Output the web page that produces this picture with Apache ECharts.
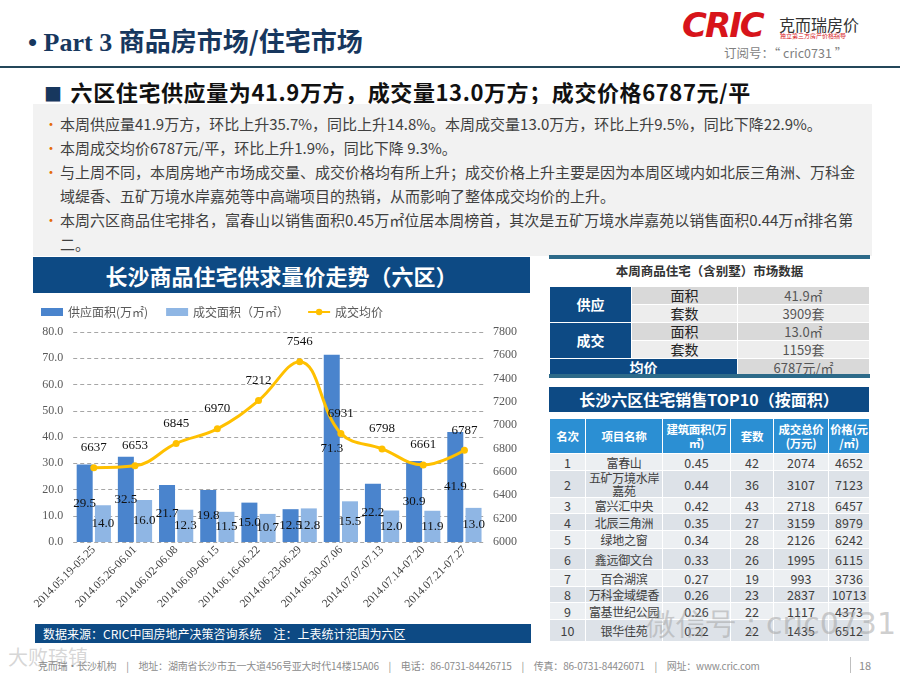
<!DOCTYPE html>
<html><head><meta charset="utf-8">
<script src="https://cdn.jsdelivr.net/npm/echarts@6/dist/echarts.min.js"></script>
<style>
html,body{margin:0;padding:0;width:900px;height:675px;overflow:hidden;background:#fff;font-family:"Noto Sans CJK SC","Noto Sans",sans-serif;}
.abs{position:absolute;}
#title{left:28px;top:21px;font-size:26px;font-weight:bold;color:#17375E;white-space:nowrap;}
#title .en{font-family:"Liberation Serif",serif;}
#topline{left:0;top:66px;width:900px;height:2px;background:#24475A;}
#sub{left:44px;top:75px;font-size:22px;font-weight:bold;color:#111;white-space:nowrap;letter-spacing:0.6px;}
#sub .sq{color:#17375E;font-size:18px;margin-right:8px;}
#graybox{left:33px;top:104px;width:839px;height:152px;background:#F2F2F2;}
.bl{position:absolute;left:60px;font-size:15px;color:#404040;white-space:nowrap;letter-spacing:0px;}
.dot{position:absolute;left:44px;color:#E46C0A;font-size:14px;}
#ctitle{left:33px;top:257px;width:497px;height:36px;background:#0D4A84;color:#fff;font-size:22px;font-weight:bold;text-align:center;line-height:36px;}
#chart{left:30px;top:293px;width:500px;height:330px;}
#src{left:35px;top:624px;width:496px;height:19px;background:#0D4A84;color:#fff;font-size:12px;line-height:19px;padding-left:8px;box-sizing:border-box;white-space:nowrap;}
#foot{left:38px;top:658px;font-size:10px;color:#8C8C8C;white-space:nowrap;letter-spacing:-0.2px;}
#pg{left:850px;top:657px;font-size:11px;color:#8C8C8C;border-left:1px solid #BFBFBF;padding-left:8px;}
#logo{left:682px;top:5px;font-family:"DejaVu Sans",sans-serif;font-size:34px;font-weight:bold;font-style:italic;color:#D7141A;letter-spacing:-2px;}
#logo2{left:779px;top:12px;font-size:16px;color:#333;white-space:nowrap;}
#logo3{left:780px;top:31px;font-size:6px;color:#D7141A;white-space:nowrap;}
#dy{left:724px;top:43px;font-size:12.5px;color:#7F7F7F;white-space:nowrap;}
#rt1line{left:549px;top:255px;width:321px;height:4px;background:#2D6A89;}
#rt1title{left:549px;top:261px;width:321px;text-align:center;font-size:12.5px;font-weight:bold;color:#333;}
table{border-collapse:collapse;table-layout:fixed;}
#t1{left:549px;top:286px;width:320px;}
#t1 td{height:17px;padding:0;font-size:13px;text-align:center;border:1px solid #fff;line-height:15px;}
#t1 .nv{background:#0D4A84;color:#fff;font-weight:bold;font-size:14px;}
#t1 .g1{background:#D9D9D9;color:#222;}
#t1 .g2{background:#EDEDED;color:#222;}
#t1 .v{color:#555;}
#rt1bot{left:549px;top:374px;width:321px;height:4px;background:#2D6A89;}
#t2title{left:549px;top:387px;width:320px;height:25px;background:#0D4A84;color:#fff;font-size:16px;font-weight:bold;text-align:center;line-height:25px;}
#t2{left:549px;top:418px;width:320px;}
#t2 th{background:#2B8FD3;color:#fff;font-size:11.5px;font-weight:bold;line-height:14px;padding:0;border:1px solid #fff;height:34px;white-space:nowrap;letter-spacing:-0.3px;}
#t2 td{font-size:12.5px;color:#404040;text-align:center;padding:0;border:1px solid #fff;line-height:13px;white-space:nowrap;overflow:hidden;}
#t2 td.nm{font-size:12px;letter-spacing:-0.3px;}
#t2 tr.a td{background:#DDE2E8;}
#t2 tr.b td{background:#ECEFF2;}
#wm{left:646px;top:604px;font-size:30px;color:rgba(160,160,160,0.5);white-space:nowrap;font-family:"DejaVu Sans",sans-serif;}
#wb{left:8px;top:642px;font-size:20px;color:rgba(180,180,180,0.55);white-space:nowrap;}
</style></head>
<body>
<div id="title" class="abs"><span class="en">• Part 3 </span>商品房市场/住宅市场</div>
<div id="logo" class="abs">CRIC</div>
<div id="logo2" class="abs">克而瑞房价</div>
<div id="logo3" class="abs">独立第三方房产价格指导</div>
<div id="dy" class="abs">订阅号：“ cric0731 ”</div>
<div id="topline" class="abs"></div>
<div id="sub" class="abs"><span class="sq">■</span>六区住宅供应量为41.9万方，成交量13.0万方；成交价格6787元/平</div>
<div id="graybox" class="abs"></div>
<div id="bullets"></div>
<div id="ctitle" class="abs">长沙商品住宅供求量价走势（六区）</div>
<div id="chart" class="abs"></div>
<div id="src" class="abs">数据来源：CRIC中国房地产决策咨询系统　注：上表统计范围为六区</div>
<div id="wb" class="abs">大败琦镇</div>
<div id="foot" class="abs">克而瑞·长沙机构　|　地址：湖南省长沙市五一大道456号亚大时代14楼15A06　|　电话：86-0731-84426715　|　传真：86-0731-84426071　|　网址：www.cric.com</div>
<div id="pg" class="abs">18</div>
<div id="rt1line" class="abs"></div>
<div id="rt1title" class="abs">本周商品住宅（含别墅）市场数据</div>
<table id="t1" class="abs"></table>
<div id="rt1bot" class="abs"></div>
<div id="t2title" class="abs">长沙六区住宅销售TOP10（按面积）</div>
<table id="t2" class="abs"></table>
<div id="wm" class="abs">微信号：cric0731</div>
<script>
// ---- chart data ----
const weeks = ['2014.05.19-05.25','2014.05.26-06.01','2014.06.02-06.08','2014.06.09-06.15','2014.06.16-06.22','2014.06.23-06.29','2014.06.30-07.06','2014.07.07-07.13','2014.07.14-07.20','2014.07.21-07.27'];
const supplyArea = [29.5,32.5,21.7,19.8,15.0,12.5,71.3,22.2,30.9,41.9];
const dealArea = [14.0,16.0,12.3,11.5,10.7,12.8,15.5,12.0,11.9,13.0];
const avgPrice = [6637,6653,6845,6970,7212,7546,6931,6798,6661,6787];
const seriesNames = ['供应面积(万㎡)','成交面积（万㎡）','成交均价'];

// ---- bullet text ----
const bulletLines = [
 ['•','本周供应量41.9万方，环比上升35.7%，同比上升14.8%。本周成交量13.0万方，环比上升9.5%，同比下降22.9%。'],
 ['•','本周成交均价6787元/平，环比上升1.9%，同比下降 9.3%。'],
 ['•','与上周不同，本周房地产市场成交量、成交价格均有所上升；成交价格上升主要是因为本周区域内如北辰三角洲、万科金'],
 ['','域缇香、五矿万境水岸嘉苑等中高端项目的热销，从而影响了整体成交均价的上升。'],
 ['•','本周六区商品住宅排名，富春山以销售面积0.45万㎡位居本周榜首，其次是五矿万境水岸嘉苑以销售面积0.44万㎡排名第'],
 ['','二。']
];

// ---- market table ----
const mktGroups = ['供应','成交'];
const mktItems = ['面积','套数'];
const mktValues = [['41.9㎡','3909套'],['13.0㎡','1159套']];
const avgLabel = '均价';
const avgValue = '6787元/㎡';

// ---- top10 table ----
const topHeaders = ['名次','项目名称','建筑面积(万<br>㎡)','套数','成交总价<br>(万元)','价格(元<br>/㎡)'];
const topRank = [1,2,3,4,5,6,7,8,9,10];
const topNames = ['富春山','五矿万境水岸<br>嘉苑','富兴汇中央','北辰三角洲','绿地之窗','鑫远御文台','百合湖滨','万科金域缇香','富基世纪公园','银华佳苑'];
const topArea = ['0.45','0.44','0.42','0.35','0.34','0.33','0.27','0.26','0.26','0.22'];
const topSets = [42,36,43,27,28,26,19,23,22,22];
const topTotal = [2074,3107,2718,3159,2126,1995,993,2837,1117,1435];
const topPrice = [4652,7123,6457,8979,6242,6115,3736,10713,4373,6512];
const topRowH = [17,27,16,17,18,21,17,16,17,22];

// bullets
let bh='';
bulletLines.forEach((l,i)=>{
  const y = 113 + i*24;
  if(l[0]) bh += `<div class="dot" style="top:${y}px">${l[0]}</div>`;
  bh += `<div class="bl" style="top:${y}px">${l[1]}</div>`;
});
document.getElementById('bullets').innerHTML = bh;

// table 1
let t1 = '<colgroup><col style="width:82px"><col style="width:106px"><col style="width:132px"></colgroup>';
mktGroups.forEach((g,gi)=>{
  mktItems.forEach((it,ii)=>{
    const cls = ii===0?'g1':'g2';
    t1 += '<tr>' + (ii===0?`<td class="nv" rowspan="2">${g}</td>`:'') +
      `<td class="${cls}" style="font-size:14px">${it}</td><td class="${cls} v">${mktValues[gi][ii]}</td></tr>`;
  });
});
t1 += `<tr><td class="nv" colspan="2">${avgLabel}</td><td class="g1 v">${avgValue}</td></tr>`;
document.getElementById('t1').innerHTML = t1;

// table 2
const cw=[36,77,68,43,55,41];
let t2 = '<colgroup>'+cw.map(w=>`<col style="width:${w}px">`).join('')+'</colgroup>';
t2 += '<tr>'+topHeaders.map(h=>`<th>${h}</th>`).join('')+'</tr>';
topRank.forEach((r,i)=>{
  t2 += `<tr class="${i%2===0?'b':'a'}" style="height:${topRowH[i]}px"><td>${r}</td><td class="nm">${topNames[i]}</td><td>${topArea[i]}</td><td>${topSets[i]}</td><td>${topTotal[i]}</td><td>${topPrice[i]}</td></tr>`;
});
document.getElementById('t2').innerHTML = t2;

// chart
const chart = echarts.init(document.getElementById('chart'));
const serif = 'Liberation Serif';
chart.setOption({
  animation:false,
  backgroundColor:'#fff',
  legend:{
    top:8,left:6,itemWidth:22,itemHeight:8,itemGap:18,
    textStyle:{fontSize:12,color:'#595959',fontFamily:'Noto Sans CJK SC'},
    data:[{name:seriesNames[0],icon:'rect'},{name:seriesNames[1],icon:'rect'},{name:seriesNames[2]}]
  },
  grid:{left:40,right:45,top:39,bottom:81},
  xAxis:{
    type:'category',data:weeks,
    axisLine:{show:false},axisTick:{show:false},
    axisLabel:{rotate:45,fontFamily:serif,fontSize:11.5,color:'#404040',margin:6,interval:0}
  },
  yAxis:[
    {type:'value',min:0,max:80,interval:10,
     axisLabel:{formatter:v=>v.toFixed(1),fontFamily:serif,fontSize:12,color:'#595959',margin:10},
     axisLine:{show:false},axisTick:{show:false},
     splitLine:{lineStyle:{type:[4,3],color:'#A6A6A6',width:1}}},
    {type:'value',min:6000,max:7800,interval:200,
     axisLabel:{formatter:v=>String(v),fontFamily:serif,fontSize:12,color:'#595959',margin:8},
     axisLine:{show:false},axisTick:{show:false},splitLine:{show:false}}
  ],
  series:[
    {name:seriesNames[0],type:'bar',data:supplyArea,barWidth:16,barGap:'14%',
     itemStyle:{color:'#4A84CD'},
     label:{show:true,position:'inside',formatter:p=>p.value.toFixed(1),fontFamily:serif,fontSize:13,color:'#111'}},
    {name:seriesNames[1],type:'bar',data:dealArea,barWidth:16,
     itemStyle:{color:'#8FB6E4'},
     label:{show:true,position:'inside',formatter:p=>p.value.toFixed(1),fontFamily:serif,fontSize:13,color:'#111'}},
    {name:seriesNames[2],type:'line',yAxisIndex:1,data:avgPrice,smooth:0.4,
     symbol:'circle',symbolSize:7,
     itemStyle:{color:'#FFC000'},lineStyle:{color:'#FFC000',width:3},
     label:{show:true,position:'top',distance:10,fontFamily:serif,fontSize:13,color:'#111'},
     z:5}
  ]
});
</script>
</body></html>
